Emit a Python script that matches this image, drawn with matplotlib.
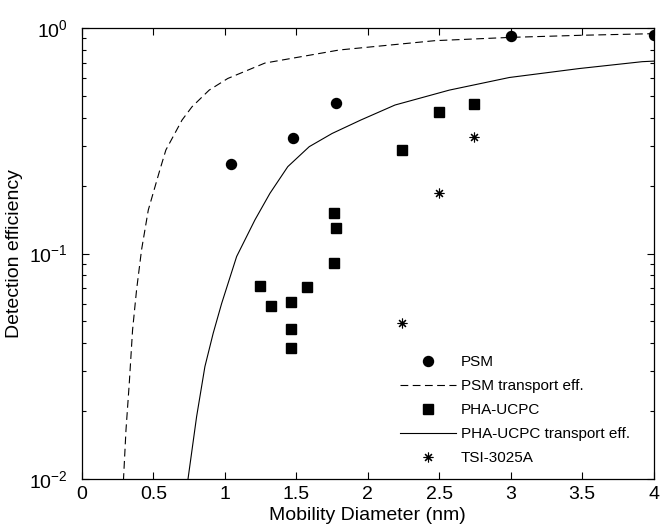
import numpy as np
import matplotlib
matplotlib.use('Agg')
import matplotlib.pyplot as plt

plt.rcParams['font.family'] = ['Liberation Sans', 'DejaVu Sans']

# measured points
psm_d = [1.04, 1.475, 1.78, 3.0, 4.0]
psm_eff = [0.249, 0.324, 0.466, 0.92, 0.93]

pha_d = [1.245, 1.32, 1.46, 1.46, 1.46, 1.575, 1.76, 1.76, 1.78, 2.24, 2.50, 2.74]
pha_eff = [0.0718, 0.0587, 0.0611, 0.0461, 0.0382, 0.0708, 0.0904, 0.152, 0.130, 0.288, 0.424, 0.46]

tsi_d = [2.236, 2.50, 2.74]
tsi_eff = [0.0493, 0.185, 0.33]

# transport efficiency curves
psm_tr_d = [0.29, 0.308, 0.331, 0.354, 0.382, 0.417, 0.464, 0.545, 0.587, 0.70, 0.77,
            0.89, 1.02, 1.28, 1.80, 2.47, 3.0, 3.5, 4.0]
psm_tr_eff = [0.0098, 0.0165, 0.0266, 0.0458, 0.069, 0.104, 0.156, 0.235, 0.288, 0.391, 0.448,
              0.531, 0.598, 0.70, 0.80, 0.88, 0.91, 0.93, 0.945]

pha_tr_d = [0.74, 0.802, 0.86, 0.918, 0.977, 1.082, 1.21, 1.315, 1.44, 1.59, 1.75,
            1.95, 2.19, 2.57, 2.99, 3.48, 3.92, 4.0]
pha_tr_eff = [0.0098, 0.0189, 0.0315, 0.0443, 0.060, 0.097, 0.141, 0.185, 0.243, 0.298, 0.341,
              0.391, 0.456, 0.531, 0.604, 0.662, 0.71, 0.714]

fig = plt.figure(figsize=(6.61, 5.31), dpi=100)
ax = fig.add_axes([0.124, 0.098, 0.865, 0.849])

ax.plot(psm_d, psm_eff, 'ko', markersize=7.2, label='PSM')
ax.plot(psm_tr_d, psm_tr_eff, 'k--', linewidth=0.8, dashes=(7, 4), label='PSM transport eff.')
ax.plot(pha_d, pha_eff, 'ks', markersize=7.6, label='PHA-UCPC')
ax.plot(pha_tr_d, pha_tr_eff, 'k-', linewidth=0.8, label='PHA-UCPC transport eff.')
ax.plot(tsi_d, tsi_eff, 'k', linestyle='none', marker=(8, 2, 0), markersize=7,
        markeredgewidth=0.8, label='TSI-3025A')

ax.set_yscale('log')
ax.set_xlim(0, 4)
ax.set_ylim(0.01, 1)
ax.set_xticks(np.arange(0, 4.01, 0.5))
ax.set_xticklabels(['0', '0.5', '1', '1.5', '2', '2.5', '3', '3.5', '4'])

ax.tick_params(which='both', direction='in', top=True, right=True, labelsize=14)
ax.tick_params(which='major', length=5, width=0.8)
ax.tick_params(which='minor', length=3, width=0.8)
ax.tick_params(axis='x', pad=5)
ax.tick_params(axis='y', pad=10)
for s in ax.spines.values():
    s.set_linewidth(0.9)

ax.set_xlabel('Mobility Diameter (nm)', fontsize=14)
ax.set_ylabel('Detection efficiency', fontsize=14)
ax.xaxis.set_label_coords(0.5, -0.062)
ax.yaxis.set_label_coords(-0.103, 0.5)

ax.legend(loc='lower left', bbox_to_anchor=(0.556, 0.031), frameon=False, fontsize=11,
          borderpad=0, borderaxespad=0, handlelength=3.7, handletextpad=0.3,
          labelspacing=0.65, numpoints=1)

plt.savefig('out.png', dpi=100)
plt.close('all')
